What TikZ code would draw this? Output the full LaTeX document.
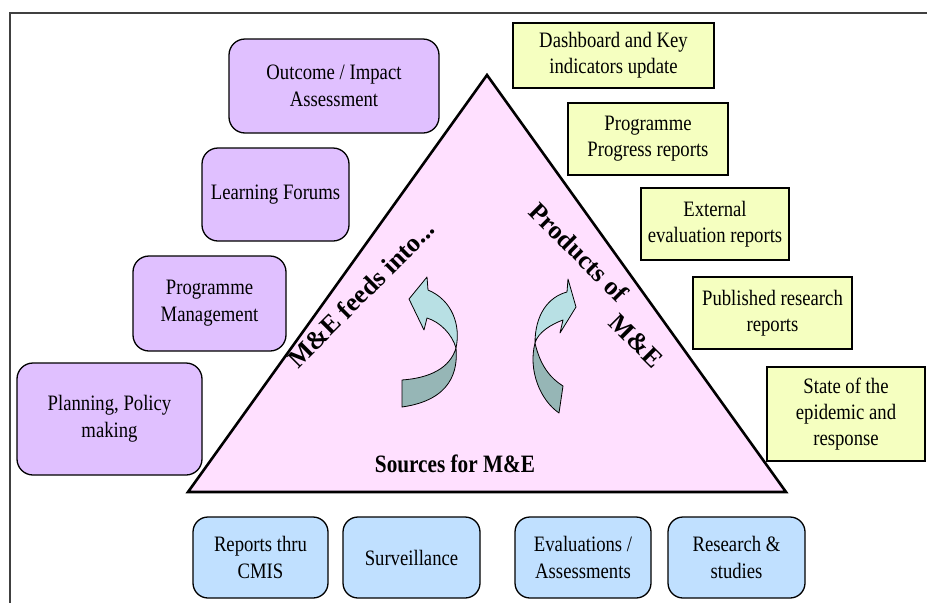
\documentclass[tikz,border=0pt]{standalone}
\usepackage{fontspec}
\setmainfont{Liberation Serif}[FakeStretch=0.85]
\newfontfamily\headfont{Liberation Serif}
\usepackage{tikz}

\definecolor{lilac}{RGB}{224,192,255}
\definecolor{skyblue}{RGB}{192,224,255}
\definecolor{lemon}{RGB}{245,255,192}
\definecolor{pinkfill}{RGB}{255,224,255}
\definecolor{tealhi}{RGB}{184,224,228}
\definecolor{tealdark}{RGB}{150,182,182}

\begin{document}
\begin{tikzpicture}[x=1pt, y=-1pt,
		usebox/.style={draw, line width=1.3pt, rounded corners=16pt, fill=lilac, align=center, inner sep=2pt, font=\fontsize{22}{27}\selectfont},
		prodbox/.style={draw, line width=1.3pt, fill=lemon, align=center, inner sep=2pt, font=\fontsize{22}{26}\selectfont},
		srcbox/.style={draw, line width=1.3pt, rounded corners=15pt, fill=skyblue, align=center, inner sep=2pt, font=\fontsize{22}{27}\selectfont},
		sidetitle/.style={align=left, inner sep=0pt, font=\headfont\bfseries\fontsize{26}{30}\selectfont},
		twist/.style={draw, line width=0.8pt, line join=round}]
		\useasboundingbox (0,0) rectangle (927,603);
		\draw[line width=1.2pt, black!75] (927,13) -- (10,13) -- (10,603);
		
		% the triangle
		\filldraw[fill=pinkfill, line width=2.6pt, line join=miter] (487,75) -- (188,492) -- (786,492) -- cycle;
		\node[sidetitle, rotate=45] (feeds) at (361,294) {M\&E feeds into...};
		\node[sidetitle, rotate=-45, font=\headfont\bfseries\fontsize{26}{22}\selectfont] (prods) at (596.6,285) {Products of\\\hspace*{5.2em}M\&E};
		\node[font=\bfseries\fontsize{25}{30}\selectfont] (sources) at (455,464) {Sources for M\&E};
		
		% curved arrows
		\filldraw[twist, fill=tealhi] (456,348) .. controls (461,325) and (452,300) .. (428,290) -- (427,277) -- (409,299) -- (424,330) -- (427,318) .. controls (440,322) and (452,334) .. (456,348) -- cycle;
		\filldraw[twist, fill=tealdark] (456,348) .. controls (458,370) and (452,400) .. (402,407) -- (402,380) .. controls (430,378) and (450,368) .. (456,348) -- cycle;
		\filldraw[twist, fill=tealhi] (535,343) .. controls (535,315) and (548,297) .. (567,292) -- (568,279) -- (576,307) -- (560,333) -- (563,320) .. controls (552,324) and (538,332) .. (535,343) -- cycle;
		\filldraw[twist, fill=tealdark] (535,343) .. controls (528,370) and (540,400) .. (559,413) -- (563,386) .. controls (550,378) and (540,365) .. (535,343) -- cycle;
		
		% what M&E feeds into
		\node[usebox, minimum width=210pt, minimum height=94pt] (outcome) at (334,86) {Outcome / Impact\\Assessment};
		\node[usebox, minimum width=147pt, minimum height=93pt] (forums) at (275.5,194.5) {Learning Forums};
		\node[usebox, minimum width=153pt, minimum height=95pt] (mgmt) at (209.5,303.5) {Programme\\Management};
		\node[usebox, minimum width=185pt, minimum height=112pt] (policy) at (109.5,419) {Planning, Policy\\making};
		
		% products
		\node[prodbox, minimum width=201pt, minimum height=65pt] (dash) at (613.5,55.5) {Dashboard and Key\\indicators update};
		\node[prodbox, minimum width=160pt, minimum height=72pt] (progress) at (648,139) {Programme\\Progress reports};
		\node[prodbox, minimum width=148pt, minimum height=72pt] (external) at (715,224) {External\\evaluation reports};
		\node[prodbox, minimum width=159pt, minimum height=72pt] (published) at (772.5,313) {Published research\\reports};
		\node[prodbox, minimum width=158pt, minimum height=94pt] (state) at (846,414) {State of the\\epidemic and\\response};
		
		% sources
		\node[srcbox, minimum width=135pt, minimum height=81pt] (cmis) at (260.5,557.5) {Reports thru\\CMIS};
		\node[srcbox, minimum width=137pt, minimum height=81pt] (surv) at (411.5,557.5) {Surveillance};
		\node[srcbox, minimum width=136pt, minimum height=81pt] (evals) at (583,557.5) {Evaluations /\\Assessments};
		\node[srcbox, minimum width=137pt, minimum height=81pt] (studies) at (736.5,557.5) {Research \&\\studies};
\end{tikzpicture}
\end{document}
